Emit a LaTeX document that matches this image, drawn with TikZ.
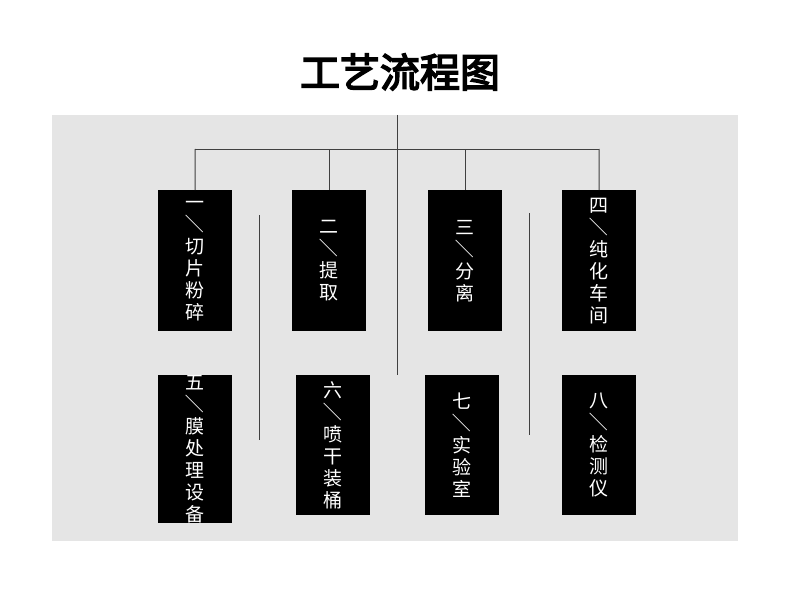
\documentclass[tikz,border=0pt]{standalone}
\usepackage{fontspec}
\usepackage{graphicx}
\newfontfamily\cjk{Noto Sans CJK SC}
\newfontfamily\cjkb[FakeBold=4]{Noto Sans CJK SC}
\newcommand{\vsl}{\rotatebox[origin=c]{-90}{／}}
\begin{document}
\begin{tikzpicture}[x=1pt,y=-1pt,
  box/.style={fill=black,text=white,minimum width=74pt,minimum height=141pt,inner sep=0pt,align=center,font=\cjk\fontsize{19}{22}\selectfont,anchor=north west},
  ln/.style={draw=black!75,line width=1pt}]
\useasboundingbox (0,0) rectangle (800,591);
\fill[black!10] (52,115) rectangle (738,541);
\node[font=\cjkb\fontsize{40}{44}\selectfont] (title) at (400,72) {工艺流程图};
\node[box] (b1) at (158,190) {一\\\vsl\\切\\片\\粉\\碎};
\node[box] (b2) at (292,190) {二\\\vsl\\提\\取};
\node[box] (b3) at (428,190) {三\\\vsl\\分\\离};
\node[box] (b4) at (562,190) {四\\\vsl\\纯\\化\\车\\间};
\node[box,minimum height=140pt] (b5) at (158,375) {五\\\vsl\\膜\\处\\理\\设\\备};
\node[box,minimum height=140pt] (b6) at (296,375) {六\\\vsl\\喷\\干\\装\\桶};
\node[box,minimum height=140pt] (b7) at (425,375) {七\\\vsl\\实\\验\\室};
\node[box,minimum height=140pt] (b8) at (562,375) {八\\\vsl\\检\\测\\仪};
\coordinate (top) at (397,115);
\coordinate (mid) at (397,375);
\coordinate (hl) at (195,149);
\coordinate (hr) at (599,149);
\draw[ln] (top) -- (mid);
\draw[ln] (hl) -- (hr);
\draw[ln] (hl) -- (b1.north);
\draw[ln] (b2.north |- hl) -- (b2.north);
\draw[ln] (b3.north |- hl) -- (b3.north);
\draw[ln] (hr) -- (b4.north);
\coordinate (v1a) at (259,215); \coordinate (v1b) at (259,440);
\coordinate (v2a) at (529,213); \coordinate (v2b) at (529,435);
\draw[ln] (v1a) -- (v1b);
\draw[ln] (v2a) -- (v2b);
\end{tikzpicture}
\end{document}
